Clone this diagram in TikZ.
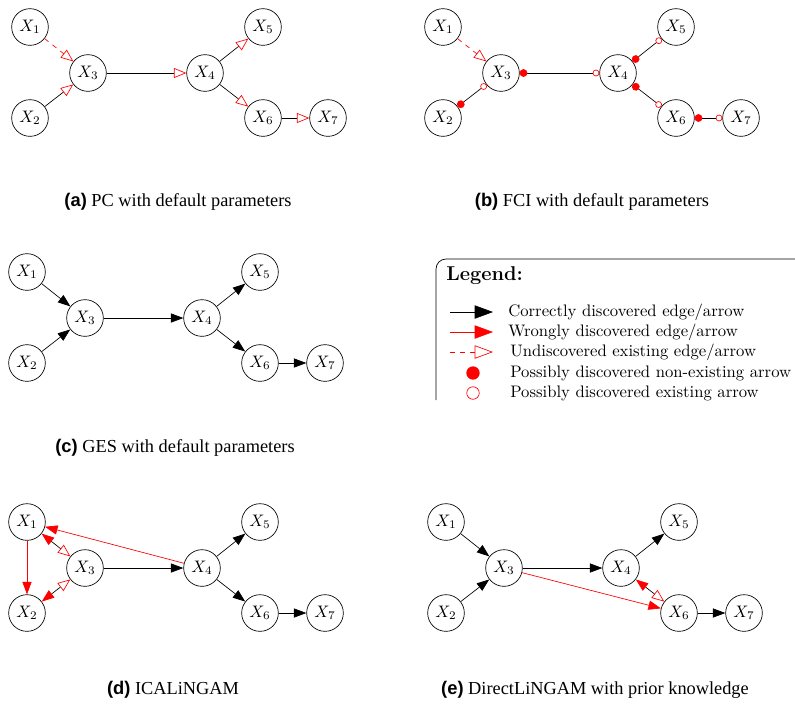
\documentclass[tikz,border=0pt]{standalone}
\usepackage{amsmath}
\usepackage{amssymb}
\usepackage{fontspec}
\usepackage{tikz}
\usetikzlibrary{arrows.meta}
\newfontfamily\capserif{Liberation Serif}
\newfontfamily\capsans{Liberation Sans}

\tikzset{
  var/.style={circle, draw, minimum size=22pt, inner sep=1pt},
  found/.style={-{Triangle[length=7.5pt,width=5.5pt]}},
  wrong/.style={red, -{Triangle[length=7.5pt,width=5.5pt]}},
  hollow/.style={-{Triangle[open,red,length=7.5pt,width=6pt]}},
  missed/.style={red, dashed, -{Triangle[open,length=7.5pt,width=6pt]}},
  maybe/.style={{Circle[red,length=4.6pt]}-{Circle[open,red,length=4pt]}},
  twoway/.style={{Triangle[red,length=7.5pt,width=5.5pt]}-{Triangle[open,red,length=7.5pt,width=6pt]}},
  caption/.style={font=\capserif\fontsize{11}{13}\selectfont},
  legtext/.style={anchor=west, inner sep=0pt}
}
\newcommand{\sublabel}[1]{{\capsans\bfseries (#1)}}

\begin{document}
\begin{tikzpicture}[x=0.6pt, y=-0.6pt]
\useasboundingbox (0,0) rectangle (795,709);

% (a) PC
\begin{scope}[shift={(30,27)}]
\node[var] (a1) at (0,0) {$X_1$};
\node[var] (a2) at (0,91) {$X_2$};
\node[var] (a3) at (58,46) {$X_3$};
\node[var] (a4) at (175,46) {$X_4$};
\node[var] (a5) at (233,0) {$X_5$};
\node[var] (a6) at (233,91) {$X_6$};
\node[var] (a7) at (298,91) {$X_7$};
\end{scope}
\draw[missed] (a1) -- (a3);
\draw[hollow] (a2) -- (a3);
\draw[hollow] (a3) -- (a4);
\draw[hollow] (a4) -- (a5);
\draw[hollow] (a4) -- (a6);
\draw[hollow] (a6) -- (a7);
\node[caption] (capa) at (178,202) {\sublabel{a} PC with default parameters};

% (b) FCI
\begin{scope}[shift={(443,27)}]
\node[var] (b1) at (0,0) {$X_1$};
\node[var] (b2) at (0,91) {$X_2$};
\node[var] (b3) at (58,46) {$X_3$};
\node[var] (b4) at (175,46) {$X_4$};
\node[var] (b5) at (233,0) {$X_5$};
\node[var] (b6) at (233,91) {$X_6$};
\node[var] (b7) at (298,91) {$X_7$};
\end{scope}
\draw[missed] (b1) -- (b3);
\draw[maybe] (b2) -- (b3);
\draw[maybe] (b3) -- (b4);
\draw[maybe] (b4) -- (b5);
\draw[maybe] (b4) -- (b6);
\draw[maybe] (b6) -- (b7);
\node[caption] (capb) at (592,202) {\sublabel{b} FCI with default parameters};

% (c) GES
\begin{scope}[shift={(27,272)}]
\node[var] (c1) at (0,0) {$X_1$};
\node[var] (c2) at (0,91) {$X_2$};
\node[var] (c3) at (58,46) {$X_3$};
\node[var] (c4) at (175,46) {$X_4$};
\node[var] (c5) at (233,0) {$X_5$};
\node[var] (c6) at (233,91) {$X_6$};
\node[var] (c7) at (298,91) {$X_7$};
\end{scope}
\draw[found] (c1) -- (c3);
\draw[found] (c2) -- (c3);
\draw[found] (c3) -- (c4);
\draw[found] (c4) -- (c5);
\draw[found] (c4) -- (c6);
\draw[found] (c6) -- (c7);
\node[caption] (capc) at (175,448) {\sublabel{c} GES with default parameters};

% legend
\draw[rounded corners=6pt] (800,259) -- (436,259) -- (436,400);
\node[legtext, font=\large\bfseries] (legtitle) at (446,276) {Legend:};
\coordinate (s1) at (450,312); \coordinate (e1) at (493,312);
\coordinate (s2) at (450,332); \coordinate (e2) at (493,332);
\coordinate (s3) at (450,352); \coordinate (e3) at (493,352);
\draw[-{Triangle[length=11pt,width=8pt]}] (s1) -- (e1);
\draw[red, -{Triangle[length=11pt,width=8pt]}] (s2) -- (e2);
\draw[red, dashed, -{Triangle[open,length=11pt,width=8pt]}] (s3) -- (e3);
\node[circle, fill=red, minimum size=8pt, inner sep=0pt] (dot1) at (473,373) {};
\node[circle, draw=red, minimum size=7.5pt, inner sep=0pt] (dot2) at (473,393) {};
\node[legtext] (leg1) at (508,312) {Correctly discovered edge/arrow};
\node[legtext] (leg2) at (508,332) {Wrongly discovered edge/arrow};
\node[legtext] (leg3) at (510,352) {Undiscovered existing edge/arrow};
\node[legtext] (leg4) at (510,373) {Possibly discovered non-existing arrow};
\node[legtext] (leg5) at (510,393) {Possibly discovered existing arrow};

% (d) ICALiNGAM
\begin{scope}[shift={(27,522)}]
\node[var] (d1) at (0,0) {$X_1$};
\node[var] (d2) at (0,91) {$X_2$};
\node[var] (d3) at (58,46) {$X_3$};
\node[var] (d4) at (175,46) {$X_4$};
\node[var] (d5) at (233,0) {$X_5$};
\node[var] (d6) at (233,91) {$X_6$};
\node[var] (d7) at (298,91) {$X_7$};
\end{scope}
\draw[wrong] (d1) -- (d2);
\draw[twoway] (d1) -- (d3);
\draw[twoway] (d2) -- (d3);
\draw[wrong] (d4) -- (d1);
\draw[found] (d3) -- (d4);
\draw[found] (d4) -- (d5);
\draw[found] (d4) -- (d6);
\draw[found] (d6) -- (d7);
\node[caption] (capd) at (173,690) {\sublabel{d} ICALiNGAM};

% (e) DirectLiNGAM
\begin{scope}[shift={(446,522)}]
\node[var] (e1) at (0,0) {$X_1$};
\node[var] (e2) at (0,91) {$X_2$};
\node[var] (e3) at (58,46) {$X_3$};
\node[var] (e4) at (175,46) {$X_4$};
\node[var] (e5) at (233,0) {$X_5$};
\node[var] (e6) at (233,91) {$X_6$};
\node[var] (e7) at (298,91) {$X_7$};
\end{scope}
\draw[found] (e1) -- (e3);
\draw[found] (e2) -- (e3);
\draw[found] (e3) -- (e4);
\draw[wrong] (e3) -- (e6);
\draw[twoway] (e4) -- (e6);
\draw[found] (e4) -- (e5);
\draw[found] (e6) -- (e7);
\node[caption] (cape) at (595,690) {\sublabel{e} DirectLiNGAM with prior knowledge};

\end{tikzpicture}
\end{document}
